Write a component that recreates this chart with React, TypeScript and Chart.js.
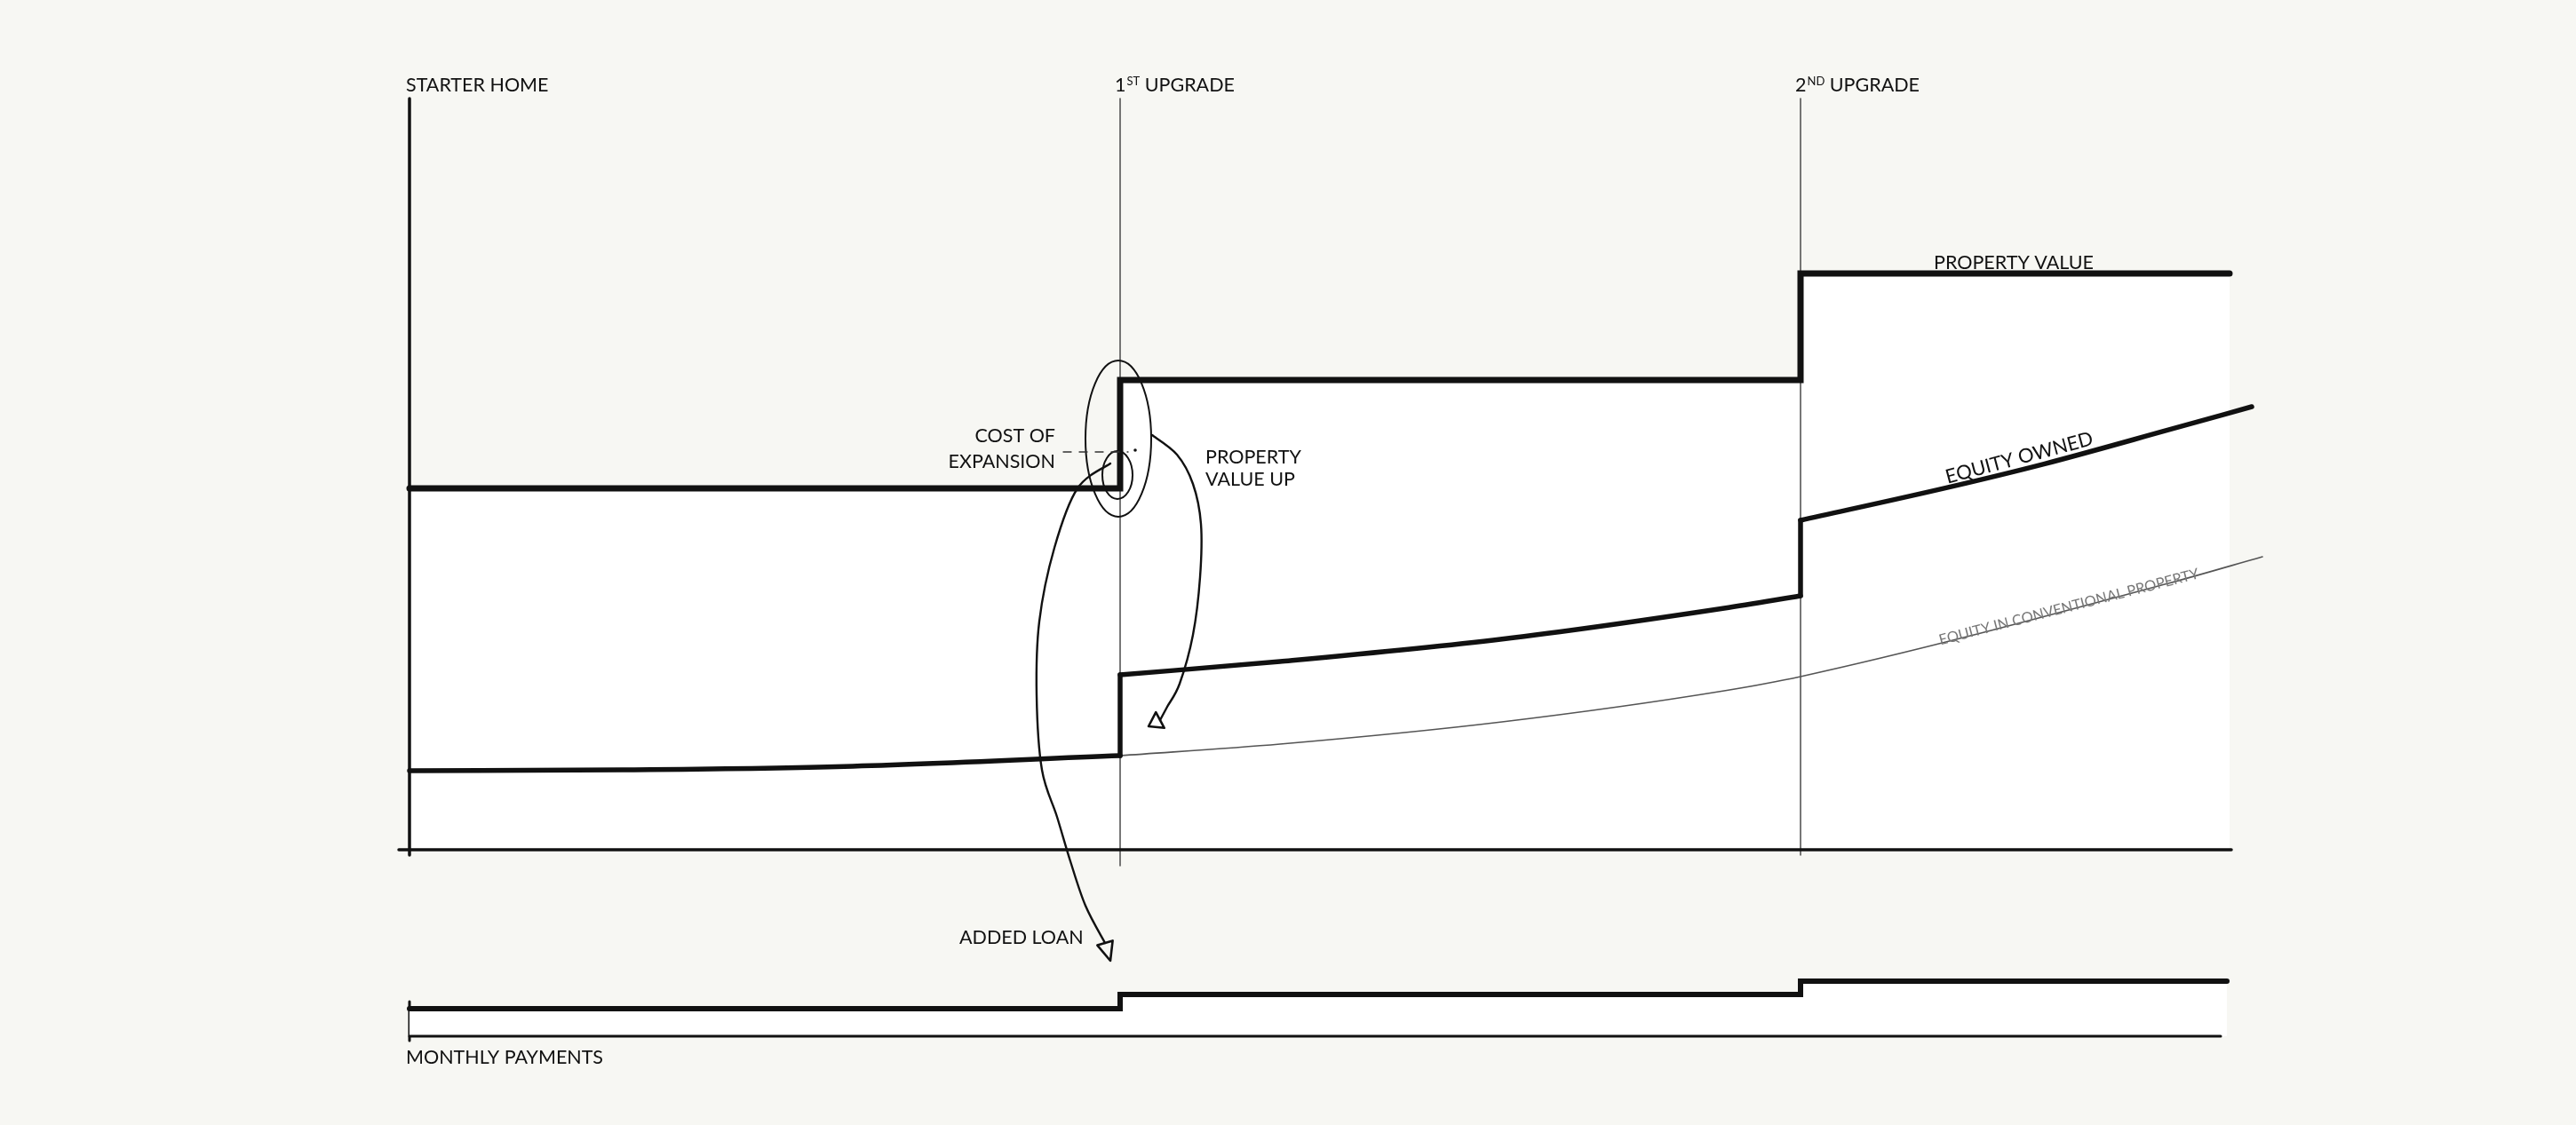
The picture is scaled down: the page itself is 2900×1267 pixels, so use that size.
import React, { useEffect, useRef } from "react";
import { Chart, registerables } from "chart.js";

Chart.register(...registerables);

const BG = "#f7f7f3";
const INK = "#111111";
const FONT = "Lato, 'Open Sans', sans-serif";
const LABEL_SIZE = 21.5;

// scale ranges (arbitrary time / value units)
const X_MIN = 0;
const X_MAX = 110;
const Y_MIN = -70;
const Y_MAX = 220;

// milestones
const upgradeX = [40, 78.3];
const upgradeLabels = [
  ["1", "ST", " UPGRADE"],
  ["2", "ND", " UPGRADE"],
];
const startLabel = "STARTER HOME";
const axisTop = 211.5;

// property value (stepped)
const propertyX = [0, 40, 40, 78.3, 78.3, 102.45];
const propertyY = [101.75, 101.75, 132.25, 132.25, 162.25, 162.25];

// equity owned, three segments between upgrades
const equityStarterX = [0, 12, 24, 40];
const equityStarterY = [22.25, 22.5, 23.4, 26.5];
const equityFirstX = [40, 49, 61.5, 74, 78.3];
const equityFirstY = [49.25, 53, 59.3, 68, 71.5];
const equitySecondX = [78.3, 86.5, 92, 99, 103.7];
const equitySecondY = [92.75, 101.9, 108.6, 118.2, 124.75];

// equity in conventional property
const conventionalX = [40, 49, 61.5, 74, 78.3, 99, 104.3];
const conventionalY = [26.5, 29.75, 36, 44.75, 48.75, 75, 82.5];

// monthly payments (stepped)
const paymentsX = [0, 40, 40, 78.3, 78.3, 102.3];
const paymentsY = [-44.75, -44.75, -40.75, -40.75, -37, -37];
const paymentsBase = -52.5;
const paymentsBaseEnd = 101.95;

// hand-drawn annotations (data units)
const bigLoop = { cx: 39.9, cy: 115.75, rx: 1.85, ry: 22 };
const smallLoop = { cx: 39.85, cy: 105.5, rx: 0.85, ry: 6.75 };
const costDash = { x1: 36.8, x2: 40.45, y: 112, dotX: 40.85, dotY: 112.5 };
const valueUpArrowX = [41.8, 43.2, 44.1, 44.55, 44.5, 44.1, 43.35, 42.65, 42.25];
const valueUpArrowY = [116.75, 111.25, 103, 91.75, 76.75, 60.5, 46.75, 40.25, 36.5];
const valueUpTip = [41.6, 34.75];
const loanArrowX = [39.45, 37.6, 36.3, 35.45, 35.3, 35.6, 36.45, 37.2, 38.05, 39.15];
const loanArrowY = [108.75, 101.75, 85, 64.25, 43.5, 22.5, 9.25, -3.25, -15.75, -26.25];
const loanTip = [39.45, -31.25];

// plain labels
const textLabels = [
  { text: "PROPERTY VALUE", x: 90.3, y: 163.5, align: "center" },
  { text: "COST OF", x: 36.35, y: 114.75, align: "right" },
  { text: "EXPANSION", x: 36.35, y: 107.5, align: "right" },
  { text: "PROPERTY", x: 44.8, y: 108.75, align: "left" },
  { text: "VALUE UP", x: 44.8, y: 102.5, align: "left" },
  { text: "ADDED LOAN", x: 30.95, y: -26.5, align: "left" },
  { text: "MONTHLY PAYMENTS", x: -0.2, y: -60.25, align: "left" },
];
const rotatedLabels = [
  { text: "EQUITY OWNED", x: 90.6, y: 110.5, angle: -15, size: 22, color: INK },
  { text: "EQUITY IN CONVENTIONAL PROPERTY", x: 93.4, y: 68.5, angle: -14.5, size: 16.5, color: "#777777" },
];

function smoothPath(ctx: CanvasRenderingContext2D, p: { x: number; y: number }[]) {
  ctx.moveTo(p[0].x, p[0].y);
  for (let i = 0; i < p.length - 1; i++) {
    const p0 = p[i - 1] || p[i];
    const p1 = p[i];
    const p2 = p[i + 1];
    const p3 = p[i + 2] || p2;
    ctx.bezierCurveTo(
      p1.x + (p2.x - p0.x) / 6,
      p1.y + (p2.y - p0.y) / 6,
      p2.x - (p3.x - p1.x) / 6,
      p2.y - (p3.y - p1.y) / 6,
      p2.x,
      p2.y
    );
  }
}

const overlay = {
  id: "overlay",
  beforeDraw(chart: any) {
    const ctx = chart.ctx;
    ctx.save();
    ctx.fillStyle = BG;
    ctx.fillRect(0, 0, chart.width, chart.height);
    ctx.restore();
  },
  beforeDatasetDraw(chart: any, args: any) {
    if (args.index !== 0) return;
    const ctx = chart.ctx;
    const X = (v: number) => chart.scales.x.getPixelForValue(v);
    const Y = (v: number) => chart.scales.y.getPixelForValue(v);
    ctx.save();
    ctx.lineCap = "round";
    // upgrade guide lines
    ctx.strokeStyle = "#4a4a4a";
    ctx.lineWidth = 1.5;
    const bottoms = [-4.5, -1.5];
    upgradeX.forEach((ux, i) => {
      ctx.beginPath();
      ctx.moveTo(X(ux), Y(axisTop));
      ctx.lineTo(X(ux), Y(bottoms[i]));
      ctx.stroke();
    });
    // axes
    ctx.strokeStyle = INK;
    ctx.lineWidth = 3.5;
    ctx.beginPath();
    ctx.moveTo(X(0), Y(axisTop));
    ctx.lineTo(X(0), Y(-1.5));
    ctx.stroke();
    ctx.beginPath();
    ctx.moveTo(X(-0.6), Y(0));
    ctx.lineTo(X(102.55), Y(0));
    ctx.stroke();
    ctx.lineWidth = 3;
    ctx.beginPath();
    ctx.moveTo(X(0), Y(-42.75));
    ctx.lineTo(X(0), Y(-53.75));
    ctx.stroke();
    ctx.restore();
  },
  afterDatasetsDraw(chart: any) {
    const ctx = chart.ctx;
    const X = (v: number) => chart.scales.x.getPixelForValue(v);
    const Y = (v: number) => chart.scales.y.getPixelForValue(v);
    ctx.save();
    ctx.fillStyle = INK;
    ctx.textBaseline = "alphabetic";
    // header labels
    ctx.font = `${LABEL_SIZE}px ${FONT}`;
    ctx.textAlign = "left";
    ctx.fillText(startLabel, X(0) - 4, Y(213.5));
    upgradeLabels.forEach((parts, i) => {
      let x = X(upgradeX[i]) - 6;
      const y = Y(213.5);
      ctx.font = `${LABEL_SIZE}px ${FONT}`;
      ctx.fillText(parts[0], x, y);
      x += ctx.measureText(parts[0]).width + 1;
      ctx.font = `13px ${FONT}`;
      ctx.fillText(parts[1], x, y - 7);
      x += ctx.measureText(parts[1]).width;
      ctx.font = `${LABEL_SIZE}px ${FONT}`;
      ctx.fillText(parts[2], x, y);
    });
    // other labels
    ctx.font = `${LABEL_SIZE}px ${FONT}`;
    textLabels.forEach((t) => {
      ctx.textAlign = t.align as CanvasTextAlign;
      ctx.fillText(t.text, X(t.x), Y(t.y));
    });
    rotatedLabels.forEach((t) => {
      ctx.save();
      ctx.translate(X(t.x), Y(t.y));
      ctx.rotate((t.angle * Math.PI) / 180);
      ctx.font = `${t.size}px ${FONT}`;
      ctx.fillStyle = t.color;
      ctx.textAlign = "center";
      ctx.fillText(t.text, 0, t.size * 0.36);
      ctx.restore();
    });

    // annotations
    ctx.strokeStyle = INK;
    ctx.lineCap = "round";
    ctx.lineJoin = "round";
    ctx.lineWidth = 2;
    [bigLoop, smallLoop].forEach((e) => {
      const rx = Math.abs(X(e.cx + e.rx) - X(e.cx));
      const ry = Math.abs(Y(e.cy + e.ry) - Y(e.cy));
      ctx.beginPath();
      ctx.ellipse(X(e.cx), Y(e.cy), rx, ry, 0, 0, Math.PI * 2);
      ctx.stroke();
    });
    ctx.save();
    ctx.setLineDash([9, 9]);
    ctx.lineWidth = 1.3;
    ctx.strokeStyle = "#333";
    ctx.beginPath();
    ctx.moveTo(X(costDash.x1), Y(costDash.y));
    ctx.lineTo(X(costDash.x2), Y(costDash.y));
    ctx.stroke();
    ctx.restore();
    ctx.beginPath();
    ctx.arc(X(costDash.dotX), Y(costDash.dotY), 1.8, 0, Math.PI * 2);
    ctx.fill();

    const arrow = (xs: number[], ys: number[], tip: number[], hw: number) => {
      const p = xs.map((x, i) => ({ x: X(x), y: Y(ys[i]) }));
      ctx.lineWidth = 2.4;
      ctx.beginPath();
      smoothPath(ctx, p);
      ctx.stroke();
      const last = p[p.length - 1];
      const tx = X(tip[0]);
      const ty = Y(tip[1]);
      const dx = tx - last.x;
      const dy = ty - last.y;
      const len = Math.hypot(dx, dy) || 1;
      const nx = -dy / len;
      const ny = dx / len;
      ctx.lineWidth = 2.6;
      ctx.beginPath();
      ctx.moveTo(tx, ty);
      ctx.lineTo(last.x + nx * hw, last.y + ny * hw);
      ctx.lineTo(last.x - nx * hw, last.y - ny * hw);
      ctx.closePath();
      ctx.stroke();
    };
    arrow(valueUpArrowX, valueUpArrowY, valueUpTip, 10);
    arrow(loanArrowX, loanArrowY, loanTip, 9);
    ctx.restore();
  },
};

const pts = (xs: number[], ys: number[]) => xs.map((x, i) => ({ x, y: ys[i] }));

function line(label: string, data: any[], opts: any) {
  return {
    label,
    data,
    showLine: true,
    pointRadius: 0,
    pointHoverRadius: 0,
    borderColor: INK,
    borderWidth: 6,
    fill: false,
    clip: false,
    borderCapStyle: "round",
    borderJoinStyle: "round",
    tension: 0,
    ...opts,
  };
}

export default function App() {
  const ref = useRef<HTMLCanvasElement>(null);
  useEffect(() => {
    document.body.style.margin = "0";
    document.body.style.background = BG;
    const canvas = ref.current;
    if (!canvas) return;
    const lastS = equityStarterX.length - 1;
    const lastF = equityFirstX.length - 1;
    const chart = new Chart(canvas, {
      type: "scatter",
      data: {
        datasets: [
          line("Property value", pts(propertyX, propertyY), {
            borderWidth: 7,
            fill: "origin",
            backgroundColor: "#ffffff",
            order: 10,
            borderJoinStyle: "miter",
          }),
          line("Monthly payments", pts(paymentsX, paymentsY), {
            borderWidth: 6,
            fill: { value: paymentsBase },
            backgroundColor: "#ffffff",
            order: 9,
            borderJoinStyle: "miter",
          }),
          line("Payments baseline", pts([0, paymentsBaseEnd], [paymentsBase, paymentsBase]), {
            borderWidth: 3,
            order: 8,
          }),
          line("Equity in conventional property", pts(conventionalX, conventionalY), {
            borderWidth: 1.6,
            borderColor: "#555555",
            cubicInterpolationMode: "monotone",
            order: 7,
          }),
          line("Equity owned", pts(equityStarterX, equityStarterY), {
            cubicInterpolationMode: "monotone",
            borderWidth: 5.5,
            order: 5,
          }),
          line(
            "Equity owned step 1",
            pts([equityStarterX[lastS], equityFirstX[0]], [equityStarterY[lastS], equityFirstY[0]]),
            { borderWidth: 5.5, order: 4 }
          ),
          line("Equity owned 1st", pts(equityFirstX, equityFirstY), {
            cubicInterpolationMode: "monotone",
            borderWidth: 5.5,
            order: 3,
          }),
          line(
            "Equity owned step 2",
            pts([equityFirstX[lastF], equitySecondX[0]], [equityFirstY[lastF], equitySecondY[0]]),
            { borderWidth: 5.5, order: 2 }
          ),
          line("Equity owned 2nd", pts(equitySecondX, equitySecondY), {
            cubicInterpolationMode: "monotone",
            borderWidth: 5.5,
            order: 1,
          }),
        ],
      },
      options: {
        responsive: false,
        animation: false,
        events: [],
        layout: { padding: { left: 461, right: 239, top: 77, bottom: 30 } },
        scales: {
          x: { type: "linear", min: X_MIN, max: X_MAX, display: false },
          y: { type: "linear", min: Y_MIN, max: Y_MAX, display: false },
        },
        plugins: {
          legend: { display: false },
          tooltip: { enabled: false },
        },
      } as any,
      plugins: [overlay],
    } as any);
    return () => chart.destroy();
  }, []);
  return (
    <canvas
      ref={ref}
      width={2900}
      height={1267}
      style={{ display: "block", width: 2900, height: 1267 }}
    />
  );
}
